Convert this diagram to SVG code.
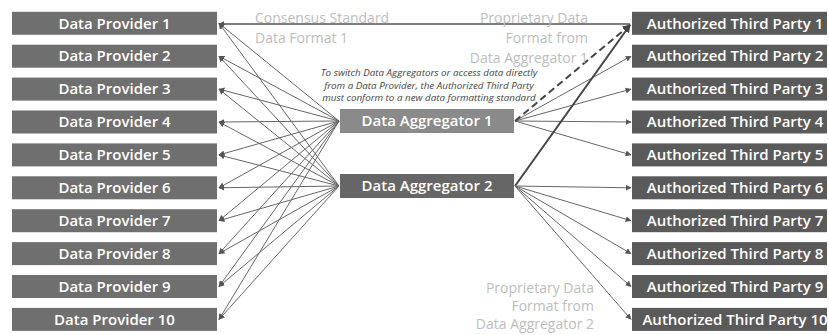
<svg xmlns="http://www.w3.org/2000/svg" width="829" height="335" viewBox="0 0 829 335">
<defs>
<marker id="ah" viewBox="0 0 10 10" refX="9" refY="5" markerWidth="6" markerHeight="6" markerUnits="userSpaceOnUse" orient="auto">
<path d="M0,0 L10,5 L0,10 z" fill="#555"/>
</marker>
<marker id="ahb" viewBox="0 0 10 10" refX="9" refY="5" markerWidth="8" markerHeight="8" markerUnits="userSpaceOnUse" orient="auto">
<path d="M0,0 L10,5 L0,10 z" fill="#444"/>
</marker>
</defs>
<style>
.prov{fill:#6f6f6f}
.atp{fill:#5a5a5a}
.lbl{font-family:"Open Sans","Liberation Sans",sans-serif;font-weight:600;font-size:15px;fill:#fff;text-anchor:middle}
.cn{stroke:#666;stroke-width:1;fill:none;marker-end:url(#ah)}
.thick{stroke:#444;stroke-width:2;fill:none;marker-end:url(#ahb)}
.note{font-family:"Open Sans","Liberation Sans",sans-serif;font-size:14px;fill:#bdbdbd}
.it{font-family:"Open Sans","Liberation Sans",sans-serif;font-style:italic;font-size:9.8px;fill:#444;text-anchor:middle}
</style>
<rect width="829" height="335" fill="#fff"/>

<g id="connectors">
<line class="cn" x1="339" y1="121" x2="219" y2="23.3"/>
<line class="cn" x1="339" y1="121" x2="219" y2="56.2"/>
<line class="cn" x1="339" y1="121" x2="219" y2="89.1"/>
<line class="cn" x1="339" y1="121" x2="219" y2="122"/>
<line class="cn" x1="339" y1="121" x2="219" y2="154.9"/>
<line class="cn" x1="339" y1="121" x2="219" y2="187.8"/>
<line class="cn" x1="339" y1="121" x2="219" y2="220.7"/>
<line class="cn" x1="339" y1="121" x2="219" y2="253.6"/>
<line class="cn" x1="339" y1="121" x2="219" y2="286.5"/>
<line class="cn" x1="339" y1="121" x2="219" y2="319.4"/>
<line class="cn" x1="339" y1="186" x2="219" y2="23.3"/>
<line class="cn" x1="339" y1="186" x2="219" y2="56.2"/>
<line class="cn" x1="339" y1="186" x2="219" y2="89.1"/>
<line class="cn" x1="339" y1="186" x2="219" y2="122"/>
<line class="cn" x1="339" y1="186" x2="219" y2="154.9"/>
<line class="cn" x1="339" y1="186" x2="219" y2="187.8"/>
<line class="cn" x1="339" y1="186" x2="219" y2="220.7"/>
<line class="cn" x1="339" y1="186" x2="219" y2="253.6"/>
<line class="cn" x1="339" y1="186" x2="219" y2="286.5"/>
<line class="cn" x1="339" y1="186" x2="219" y2="319.4"/>
<line x1="630" y1="24" x2="219" y2="24" stroke="#555" stroke-width="1.5" marker-end="url(#ah)"/>
<line class="cn" x1="515" y1="121" x2="631" y2="56.2" stroke="#888"/>
<line class="cn" x1="515" y1="121" x2="631" y2="89.1" stroke="#888"/>
<line class="cn" x1="515" y1="121" x2="631" y2="122" stroke="#888"/>
<line class="cn" x1="515" y1="121" x2="631" y2="154.9" stroke="#888"/>
<line class="thick" x1="515" y1="121" x2="630" y2="25" stroke-dasharray="7,4"/>
<line class="thick" x1="515" y1="186" x2="630" y2="25"/>
<line class="cn" x1="515" y1="186" x2="631" y2="187.8"/>
<line class="cn" x1="515" y1="186" x2="631" y2="220.7"/>
<line class="cn" x1="515" y1="186" x2="631" y2="253.6"/>
<line class="cn" x1="515" y1="186" x2="631" y2="286.5"/>
<line class="cn" x1="515" y1="186" x2="631" y2="319.4"/>
</g>

<g id="dp1"><rect class="prov" x="12" y="11.8" width="205" height="23"/><text class="lbl" x="114.5" y="28.5">Data Provider 1</text></g>
<g id="dp2"><rect class="prov" x="12" y="44.7" width="205" height="23"/><text class="lbl" x="114.5" y="61.4">Data Provider 2</text></g>
<g id="dp3"><rect class="prov" x="12" y="77.6" width="205" height="23"/><text class="lbl" x="114.5" y="94.3">Data Provider 3</text></g>
<g id="dp4"><rect class="prov" x="12" y="110.5" width="205" height="23"/><text class="lbl" x="114.5" y="127.2">Data Provider 4</text></g>
<g id="dp5"><rect class="prov" x="12" y="143.4" width="205" height="23"/><text class="lbl" x="114.5" y="160.1">Data Provider 5</text></g>
<g id="dp6"><rect class="prov" x="12" y="176.3" width="205" height="23"/><text class="lbl" x="114.5" y="193">Data Provider 6</text></g>
<g id="dp7"><rect class="prov" x="12" y="209.2" width="205" height="23"/><text class="lbl" x="114.5" y="225.9">Data Provider 7</text></g>
<g id="dp8"><rect class="prov" x="12" y="242.1" width="205" height="23"/><text class="lbl" x="114.5" y="258.8">Data Provider 8</text></g>
<g id="dp9"><rect class="prov" x="12" y="275" width="205" height="23"/><text class="lbl" x="114.5" y="291.7">Data Provider 9</text></g>
<g id="dp10"><rect class="prov" x="12" y="307.9" width="205" height="23"/><text class="lbl" x="114.5" y="324.6">Data Provider 10</text></g>

<g id="agg1"><rect x="340" y="109" width="174" height="24" fill="#8a8a8a"/><text class="lbl" x="427" y="126.2">Data Aggregator 1</text></g>
<g id="agg2"><rect x="340" y="174" width="174" height="24" fill="#666"/><text class="lbl" x="427" y="191.2">Data Aggregator 2</text></g>

<g id="atp1"><rect class="atp" x="632" y="11.8" width="195" height="23"/><text class="lbl" x="735" y="28.5">Authorized Third Party 1</text></g>
<g id="atp2"><rect class="atp" x="632" y="44.7" width="195" height="23"/><text class="lbl" x="735" y="61.4">Authorized Third Party 2</text></g>
<g id="atp3"><rect class="atp" x="632" y="77.6" width="195" height="23"/><text class="lbl" x="735" y="94.3">Authorized Third Party 3</text></g>
<g id="atp4"><rect class="atp" x="632" y="110.5" width="195" height="23"/><text class="lbl" x="735" y="127.2">Authorized Third Party 4</text></g>
<g id="atp5"><rect class="atp" x="632" y="143.4" width="195" height="23"/><text class="lbl" x="735" y="160.1">Authorized Third Party 5</text></g>
<g id="atp6"><rect class="atp" x="632" y="176.3" width="195" height="23"/><text class="lbl" x="735" y="193">Authorized Third Party 6</text></g>
<g id="atp7"><rect class="atp" x="632" y="209.2" width="195" height="23"/><text class="lbl" x="735" y="225.9">Authorized Third Party 7</text></g>
<g id="atp8"><rect class="atp" x="632" y="242.1" width="195" height="23"/><text class="lbl" x="735" y="258.8">Authorized Third Party 8</text></g>
<g id="atp9"><rect class="atp" x="632" y="275" width="195" height="23"/><text class="lbl" x="735" y="291.7">Authorized Third Party 9</text></g>
<g id="atp10"><rect class="atp" x="632" y="307.9" width="195" height="23"/><text class="lbl" x="735" y="324.6">Authorized Third Party 10</text></g>

<g id="labels">
<text class="note" x="255" y="23">Consensus Standard</text>
<text class="note" x="255" y="43">Data Format 1</text>
<text class="note" x="588" y="23" text-anchor="end">Proprietary Data</text>
<text class="note" x="588" y="43" text-anchor="end">Format from</text>
<text class="note" x="588" y="63" text-anchor="end">Data Aggregator 1</text>
<text class="note" x="594" y="293" text-anchor="end">Proprietary Data</text>
<text class="note" x="594" y="311" text-anchor="end">Format from</text>
<text class="note" x="594" y="329" text-anchor="end">Data Aggregator 2</text>
<text class="it" x="429" y="76">To switch Data Aggregators or access data directly</text>
<text class="it" x="429" y="88.5">from a Data Provider, the Authorized Third Party</text>
<text class="it" x="429" y="101">must conform to a new data formatting standard</text>
</g>
</svg>
